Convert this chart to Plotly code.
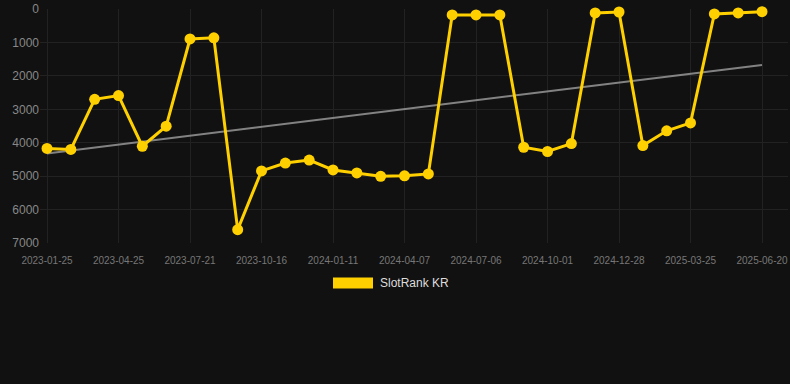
import numpy as np
import plotly.graph_objects as go

dates = [
    "2023-01-25", "2023-02-24", "2023-03-26", "2023-04-25", "2023-05-24", "2023-06-22",
    "2023-07-21", "2023-08-19", "2023-09-17", "2023-10-16", "2023-11-14", "2023-12-13",
    "2024-01-11", "2024-02-09", "2024-03-09", "2024-04-07", "2024-05-07", "2024-06-06",
    "2024-07-06", "2024-08-04", "2024-09-02", "2024-10-01", "2024-10-30", "2024-11-28",
    "2024-12-28", "2025-01-26", "2025-02-24", "2025-03-25", "2025-04-23", "2025-05-22",
    "2025-06-20",
]
rank = [
    4170, 4200, 2700, 2590, 4105, 3505, 896, 860, 6600, 4843, 4607, 4519,
    4814, 4902, 5006, 4991, 4932, 177, 177, 177, 4135, 4262, 4026, 118,
    89, 4085, 3643, 3407, 148, 118, 79,
]
tick_labels = dates[::3]
y_ticks = [0, 1000, 2000, 3000, 4000, 5000, 6000, 7000]
series_name = "SlotRank KR"

idx = np.arange(len(rank))
slope, intercept = np.polyfit(idx, rank, 1)
trend = slope * idx + intercept

fig = go.Figure()
fig.add_trace(go.Scatter(
    x=dates, y=trend, mode="lines",
    line=dict(color="rgba(150,150,150,0.85)", width=2),
    hoverinfo="skip", showlegend=False,
))
fig.add_trace(go.Scatter(
    x=dates, y=rank, mode="lines+markers", name=series_name,
    line=dict(color="#FFD000", width=3),
    marker=dict(color="#FFD000", size=11),
    cliponaxis=False, showlegend=False,
))

# legend drawn manually (wide swatch)
fig.add_shape(type="rect", xref="paper", yref="paper",
              x0=(333 - 40) / 748, x1=(373 - 40) / 748,
              y0=(243 - 289) / 237, y1=(243 - 278) / 237,
              fillcolor="#FFD000", line=dict(width=0))
fig.add_annotation(text=series_name, xref="paper", yref="paper",
                   x=(378 - 40) / 748, y=(243 - 284) / 237,
                   xanchor="left", yanchor="middle", showarrow=False,
                   font=dict(color="#dddddd", size=12, family="Arial, Liberation Sans, sans-serif"))

fig.update_layout(
    width=790, height=384,
    margin=dict(l=40, r=2, t=6, b=141),
    paper_bgcolor="#111111", plot_bgcolor="#111111",
    font=dict(family="Arial, Liberation Sans, sans-serif", color="#888888"),
    showlegend=False,
)
fig.update_xaxes(
    type="category", range=[-0.294, 31.09],
    tickmode="array", tickvals=tick_labels, ticktext=tick_labels,
    tickfont=dict(size=10, color="#777777"),
    ticklabelstandoff=10,
    showgrid=True, gridcolor="#222222", gridwidth=1,
    showline=False, zeroline=False, ticks="",
)
fig.update_yaxes(
    range=[7000, -1], tickvals=y_ticks,
    tickfont=dict(size=12, color="#888888"),
    ticklabeloverflow="allow",
    showgrid=True, gridcolor="#222222", gridwidth=1,
    zeroline=False, showline=False, ticks="",
)

fig.write_html(
    "out.html",
    config={"displayModeBar": False},
    post_script="document.body.style.margin='0';document.body.style.background='#111111';",
)
